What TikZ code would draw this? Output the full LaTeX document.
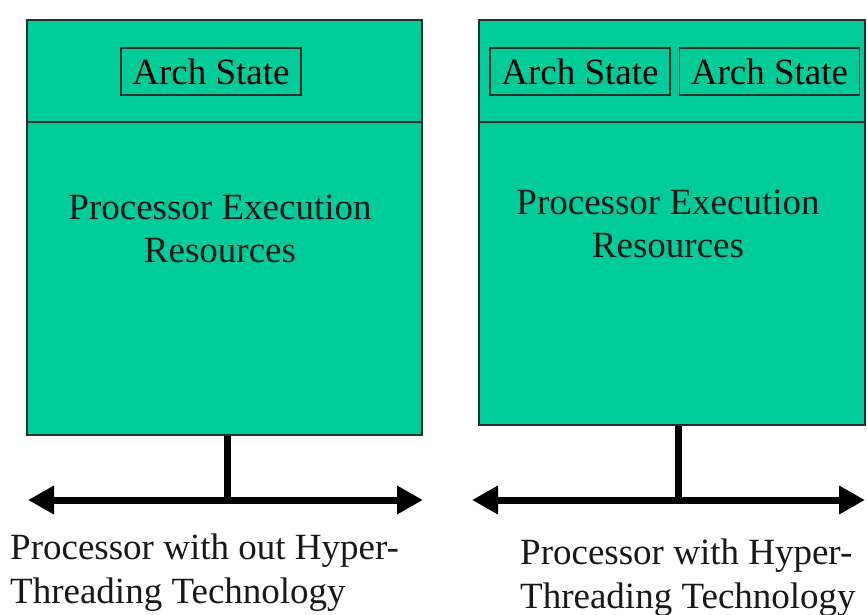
\documentclass[tikz,border=0pt]{standalone}
\usepackage{fontspec}
\setmainfont{Liberation Serif}
\usetikzlibrary{arrows.meta,positioning}
\definecolor{procgreen}{RGB}{0,204,153}
\definecolor{edgegray}{RGB}{40,48,44}

\begin{document}
\begin{tikzpicture}[x=1pt,y=-1pt,
        part/.style = {draw=edgegray, fill=procgreen, line width=1.6pt, inner sep=0pt},
        arch/.style = {draw=edgegray, line width=1.4pt, minimum width=180pt, minimum height=47pt, inner sep=0pt, font=\fontsize{37}{43}\selectfont},
        label/.style = {align=center, font=\fontsize{37}{43}\selectfont, text=black!90},
        caption/.style = {align=left, anchor=north west, inner sep=0pt, font=\fontsize{37}{44}\selectfont, text=black!90},
        bus/.style = {line width=7pt, {Triangle[length=26pt,width=27pt]}-{Triangle[length=26pt,width=27pt]}},
        stem/.style = {line width=7pt}]
    \useasboundingbox (0,0) rectangle (867,615);
        % without hyper-threading
        \node[part, minimum width=395pt, minimum height=102pt] (LeftTop) at (224.5,71) {};
        \node[part, minimum width=395pt, minimum height=313pt] (LeftBody) at (224.5,278.5) {};
        \node[arch] (LeftArch) at (211,71.5) {Arch State};
        \node[label] (LeftRes) at (220,229) {Processor Execution\\Resources};
        \coordinate (LeftBus) at (227,500);
        \coordinate (LeftBusW) at (28,500);
        \coordinate (LeftBusE) at (423,500);
        \draw[stem] (LeftBus |- LeftBody.south) -- (LeftBus);
        \draw[bus] (LeftBusW) -- (LeftBusE);
        \node[caption] (LeftCap) at (10,534) {Processor with out Hyper-\\Threading Technology};
        % with hyper-threading
        \node[part, minimum width=386pt, minimum height=102pt] (RightTop) at (672,71) {};
        \node[part, minimum width=386pt, minimum height=303pt] (RightBody) at (672,273.5) {};
        \node[arch] (RightArchA) at (580,71.5) {Arch State};
        \node[arch] (RightArchB) [right=8pt of RightArchA] {Arch State};
        \node[label] (RightRes) at (668,224) {Processor Execution\\Resources};
        \coordinate (RightBus) at (678,500);
        \coordinate (RightBusW) at (472,500);
        \coordinate (RightBusE) at (865,500);
        \draw[stem] (RightBus |- RightBody.south) -- (RightBus);
        \draw[bus] (RightBusW) -- (RightBusE);
        \node[caption] (RightCap) at (520,539) {Processor with Hyper-\\Threading Technology};
    \end{tikzpicture}
\end{document}
